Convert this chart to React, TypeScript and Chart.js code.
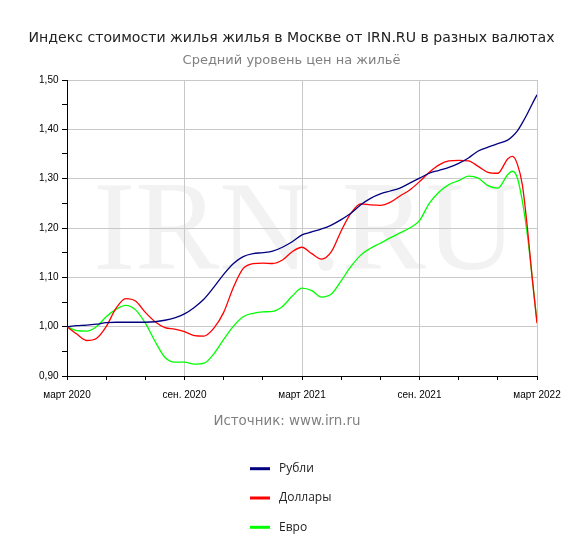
import React, { useEffect, useRef } from 'react';
import { Chart, registerables } from 'chart.js';

Chart.register(...registerables);

// x positions: months since March 2020
const months = [
  0, 0.5, 1, 1.5, 2, 2.5, 3, 3.5, 4, 4.5, 5, 5.5, 6, 6.5, 7, 7.5, 8, 8.5, 9, 9.5,
  10, 10.5, 11, 11.5, 12, 12.5, 13, 13.5, 14, 14.5, 15, 15.5, 16, 16.5, 17, 17.5,
  18, 18.5, 19, 19.5, 20, 20.5, 21, 21.5, 22, 22.5, 22.75, 23, 23.25, 23.5, 23.75, 24,
];

const rub = [
  1.000, 1.002, 1.003, 1.005, 1.008, 1.009, 1.009, 1.009, 1.009, 1.010, 1.013, 1.018,
  1.026, 1.039, 1.056, 1.080, 1.106, 1.128, 1.142, 1.148, 1.150, 1.153, 1.161, 1.172,
  1.186, 1.192, 1.198, 1.206, 1.217, 1.230, 1.247, 1.260, 1.269, 1.275, 1.281, 1.291,
  1.301, 1.311, 1.317, 1.323, 1.331, 1.342, 1.356, 1.364, 1.371, 1.378, 1.386, 1.397,
  1.413, 1.431, 1.451, 1.470,
];

const usd = [
  1.000, 0.985, 0.972, 0.976, 1.000, 1.037, 1.057, 1.052, 1.029, 1.010, 0.998, 0.995,
  0.990, 0.982, 0.981, 0.997, 1.029, 1.080, 1.118, 1.128, 1.129, 1.128, 1.135, 1.152,
  1.161, 1.148, 1.137, 1.152, 1.194, 1.230, 1.249, 1.247, 1.246, 1.252, 1.265, 1.277,
  1.294, 1.313, 1.328, 1.336, 1.337, 1.336, 1.325, 1.313, 1.311, 1.340, 1.345, 1.329,
  1.288, 1.204, 1.101, 1.007,
];

const eur = [
  1.000, 0.992, 0.991, 1.000, 1.020, 1.035, 1.043, 1.034, 1.007, 0.970, 0.938, 0.928,
  0.928, 0.924, 0.926, 0.945, 0.974, 1.001, 1.020, 1.027, 1.030, 1.031, 1.041, 1.062,
  1.078, 1.073, 1.060, 1.066, 1.093, 1.122, 1.145, 1.159, 1.169, 1.180, 1.190, 1.200,
  1.215, 1.250, 1.273, 1.288, 1.296, 1.305, 1.301, 1.286, 1.281, 1.308, 1.315, 1.301,
  1.255, 1.189, 1.101, 1.010,
];

const seriesNames = ['Рубли', 'Доллары', 'Евро'];
const seriesColors = ['#000080', '#ff0000', '#00ff00'];

const xTickValues = [0, 6, 12, 18, 24];
const xTickLabels = ['март 2020', 'сен. 2020', 'март 2021', 'сен. 2021', 'март 2022'];

const titleText = 'Индекс стоимости жилья жилья в Москве от IRN.RU в разных валютах';
const subtitleText = 'Средний уровень цен на жильё';
const sourceText = 'Источник: www.irn.ru';
const watermarkText = 'IRN.RU';

function isMajorY(v: number) {
  return Math.abs(v * 10 - Math.round(v * 10)) < 1e-6;
}

export default function App() {
  const ref = useRef<HTMLCanvasElement>(null);

  useEffect(() => {
    document.body.style.margin = '0';
    const canvas = ref.current;
    if (!canvas) return;

    const extras = {
      id: 'extras',
      beforeDraw(chart: any) {
        const { ctx, chartArea } = chart;
        ctx.save();
        ctx.font = '126px "Liberation Serif"';
        ctx.fillStyle = '#f2f2f2';
        ctx.textAlign = 'center';
        ctx.textBaseline = 'alphabetic';
        ctx.fillText(watermarkText, (chartArea.left + chartArea.right) / 2 + 3, chartArea.top + 189);
        ctx.restore();
      },
      afterDraw(chart: any) {
        const { ctx } = chart;
        ctx.save();
        ctx.font = '13.4px "DejaVu Sans"';
        ctx.fillStyle = '#808080';
        ctx.textAlign = 'center';
        ctx.textBaseline = 'alphabetic';
        ctx.fillText(sourceText, 287, 425);

        chart.data.datasets.forEach((ds: any, i: number) => {
          const y = 468.7 + i * 29.3;
          ctx.beginPath();
          ctx.strokeStyle = ds.borderColor;
          ctx.lineWidth = 3;
          ctx.moveTo(250, y);
          ctx.lineTo(270, y);
          ctx.stroke();
          ctx.font = '12px "Open Sans"';
          ctx.fillStyle = '#222';
          ctx.textAlign = 'left';
          ctx.textBaseline = 'middle';
          ctx.fillText(ds.label, 279, y);
        });
        ctx.restore();
      },
    };

    const chart = new Chart(canvas, {
      type: 'line',
      data: {
        datasets: [rub, usd, eur].map((arr, i) => ({
          label: seriesNames[i],
          data: months.map((m, j) => ({ x: m, y: arr[j] })),
          borderColor: seriesColors[i],
          backgroundColor: seriesColors[i],
          borderWidth: 1.3,
          pointRadius: 0,
          fill: false,
          cubicInterpolationMode: 'monotone' as const,
        })),
      },
      options: {
        responsive: false,
        animation: false,
        devicePixelRatio: 1,
        layout: { padding: { left: 0, right: 0, top: 0, bottom: 142 } },
        plugins: {
          legend: { display: false },
          tooltip: { enabled: false },
          title: {
            display: true,
            text: titleText,
            color: '#222',
            font: { family: '"DejaVu Sans"', size: 14.1, weight: 'normal' },
            padding: { top: 30, bottom: 0 },
          },
          subtitle: {
            display: true,
            text: subtitleText,
            color: '#808080',
            font: { family: '"DejaVu Sans"', size: 13, weight: 'normal' },
            padding: { top: 6, bottom: 11.48 },
          },
        },
        scales: {
          x: {
            type: 'linear',
            min: 0,
            max: 24,
            ticks: {
              stepSize: 2,
              autoSkip: false,
              maxRotation: 0,
              padding: 9.5,
              color: '#000',
              font: { family: '"Liberation Sans"', size: 10 },
              callback: (v: any) => {
                const k = xTickValues.indexOf(Number(v));
                return k >= 0 ? xTickLabels[k] : '';
              },
            },
            grid: {
              color: (c: any) => {
                const v = c.tick ? c.tick.value : -1;
                return v > 0 && v % 6 === 0 ? '#c8c8c8' : 'rgba(0,0,0,0)';
              },
              tickColor: '#000',
              tickLength: 4,
              drawTicks: true,
              lineWidth: 1,
            },
            border: { display: true, color: '#000', width: 1 },
            afterFit: (s: any) => {
              s.height = 40;
            },
          },
          y: {
            type: 'linear',
            min: 0.9,
            max: 1.5,
            ticks: {
              stepSize: 0.05,
              autoSkip: false,
              padding: 3.5,
              color: '#000',
              font: { family: '"Liberation Sans"', size: 10 },
              callback: (v: any) => (isMajorY(Number(v)) ? Number(v).toFixed(2).replace('.', ',') : ''),
            },
            grid: {
              color: (c: any) => {
                const v = c.tick ? c.tick.value : 0;
                return v > 0.95 && isMajorY(v) ? '#c8c8c8' : 'rgba(0,0,0,0)';
              },
              tickColor: '#000',
              tickLength: 5,
              drawTicks: true,
              lineWidth: 1,
            },
            border: { display: true, color: '#000', width: 1 },
            afterFit: (s: any) => {
              s.width = 67;
            },
          },
          pad: {
            type: 'linear',
            position: 'right',
            display: true,
            grid: { display: false, drawTicks: false },
            border: { display: false },
            ticks: { display: false },
            afterFit: (s: any) => {
              s.width = 46;
            },
          },
        },
      },
      plugins: [extras],
    } as any);

    return () => {
      chart.destroy();
    };
  }, []);

  return <canvas ref={ref} width={583} height={558} style={{ display: 'block' }} />;
}
